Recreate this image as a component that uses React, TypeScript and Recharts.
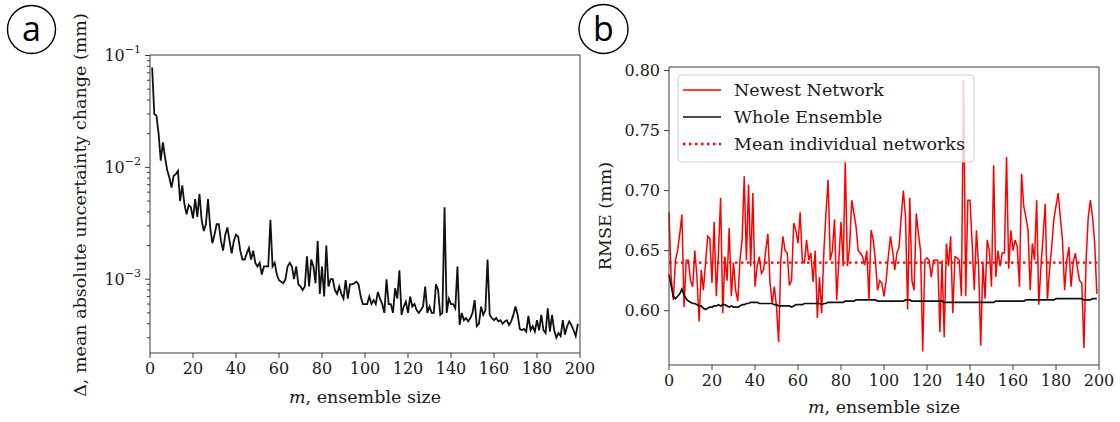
import { Line, LineChart, ReferenceLine, XAxis, YAxis } from 'recharts'

const SERIF = '"DejaVu Serif", serif'
const SANS = '"Open Sans", "Liberation Sans", sans-serif'
const AXIS_COLOR = '#3c3c3c'
const TEXT_COLOR = '#1a1a1a'
const LABEL_SIZE = 17.5

// (a) mean absolute uncertainty change, m = 1..199
const UNCERTAINTY_CHANGE = [
  0.078, 0.03, 0.029, 0.02, 0.0115, 0.0167, 0.0123, 0.0094, 0.0081, 0.0066,
  0.0084, 0.0087, 0.0093, 0.005, 0.0069, 0.0047, 0.0038, 0.0046, 0.0044, 0.0035,
  0.0052, 0.0036, 0.0058, 0.0034, 0.0027, 0.0031, 0.0052, 0.0029, 0.0021, 0.0025,
  0.0031, 0.0031, 0.0022, 0.0018, 0.0025, 0.0029, 0.0022, 0.0017, 0.0022, 0.0025,
  0.0024, 0.0018, 0.0015, 0.0015, 0.0017, 0.0019, 0.0015, 0.0018, 0.0014, 0.0013,
  0.0014, 0.0011, 0.0013, 0.0013, 0.0013, 0.0034, 0.0013, 0.0014, 0.0011, 0.00098,
  0.00095, 0.00092, 0.001, 0.0013, 0.0014, 0.0013, 0.001, 0.0013, 0.0009, 0.00086,
  0.0008, 0.00086, 0.0016, 0.00086, 0.0015, 0.0013, 0.00092, 0.0022, 0.00074, 0.0013,
  0.0007, 0.002, 0.00086, 0.001, 0.001, 0.0008, 0.00074, 0.00086, 0.00074, 0.00067,
  0.00098, 0.00067, 0.0009, 0.0009, 0.00092, 0.00095, 0.0009, 0.0007, 0.0006, 0.0006,
  0.0006, 0.0007, 0.0006, 0.00065, 0.0006, 0.00077, 0.00067, 0.0006, 0.0005, 0.001,
  0.0006, 0.0006, 0.0005, 0.00083, 0.00067, 0.0012, 0.00048, 0.00057, 0.00063, 0.0005,
  0.0007, 0.00057, 0.0006, 0.00053, 0.0005, 0.00053, 0.00057, 0.00086, 0.0005, 0.00057,
  0.0005, 0.0005, 0.0009, 0.0008, 0.00048, 0.0005, 0.0044, 0.0005, 0.00067, 0.0006,
  0.0006, 0.00055, 0.0013, 0.00039, 0.0005, 0.00043, 0.00045, 0.00042, 0.00045, 0.0005,
  0.00065, 0.00038, 0.0004, 0.00057, 0.00048, 0.00053, 0.0015, 0.00048, 0.00045, 0.00043,
  0.00045, 0.00042, 0.00043, 0.0004, 0.00042, 0.00043, 0.00039, 0.00042, 0.00048, 0.00057,
  0.00048, 0.00036, 0.00035, 0.00036, 0.00034, 0.00047, 0.00035, 0.00038, 0.00034, 0.00043,
  0.00035, 0.00048, 0.00035, 0.00033, 0.00055, 0.00034, 0.00048, 0.00035, 0.0003, 0.00033,
  0.00031, 0.00043, 0.00032, 0.00038, 0.00042, 0.00039, 0.00035, 0.00031, 0.0004,
]

// (b) RMSE (mm), m = 0..199
const NEWEST_NETWORK = [
  0.682, 0.628, 0.609, 0.642, 0.65, 0.664, 0.68, 0.603, 0.642, 0.642,
  0.625, 0.62, 0.65, 0.628, 0.591, 0.634, 0.617, 0.64, 0.662, 0.66,
  0.623, 0.674, 0.612, 0.648, 0.694, 0.598, 0.645, 0.625, 0.669, 0.612,
  0.64, 0.617, 0.608, 0.642, 0.659, 0.712, 0.642, 0.705, 0.637, 0.698,
  0.62, 0.637, 0.645, 0.631, 0.634, 0.65, 0.664, 0.623, 0.606, 0.62,
  0.603, 0.574, 0.642, 0.662, 0.65, 0.648, 0.621, 0.625, 0.673, 0.667,
  0.656, 0.682, 0.642, 0.64, 0.659, 0.642, 0.648, 0.624, 0.65, 0.594,
  0.628, 0.598, 0.648, 0.681, 0.709, 0.642, 0.65, 0.676, 0.609, 0.642,
  0.674, 0.637, 0.724, 0.637, 0.653, 0.692, 0.681, 0.67, 0.65, 0.648,
  0.645, 0.638, 0.65, 0.609, 0.667, 0.659, 0.642, 0.617, 0.625, 0.623,
  0.612, 0.625, 0.645, 0.662, 0.65, 0.634, 0.648, 0.653, 0.678, 0.7,
  0.678, 0.601, 0.694, 0.625, 0.617, 0.681, 0.664, 0.65, 0.566, 0.642,
  0.644, 0.642, 0.628, 0.642, 0.642, 0.642, 0.582, 0.642, 0.578, 0.656,
  0.637, 0.662, 0.598, 0.645, 0.644, 0.642, 0.612, 0.792, 0.612, 0.692,
  0.692, 0.656, 0.617, 0.667, 0.637, 0.571, 0.64, 0.61, 0.659, 0.65,
  0.62, 0.721, 0.628, 0.65, 0.637, 0.648, 0.648, 0.728, 0.635, 0.667,
  0.65, 0.659, 0.653, 0.62, 0.714, 0.687, 0.678, 0.667, 0.617, 0.656,
  0.642, 0.692, 0.605, 0.637, 0.662, 0.689, 0.609, 0.634, 0.653, 0.676,
  0.687, 0.698, 0.678, 0.659, 0.617, 0.642, 0.653, 0.62, 0.64, 0.648,
  0.635, 0.625, 0.623, 0.569, 0.642, 0.678, 0.692, 0.678, 0.656, 0.614,
]

const WHOLE_ENSEMBLE = [
  0.63, 0.621, 0.612, 0.61, 0.612, 0.614, 0.618, 0.613, 0.61, 0.608,
  0.607, 0.606, 0.606, 0.605, 0.604, 0.604, 0.602, 0.601, 0.602, 0.603,
  0.603, 0.604, 0.604, 0.605, 0.604, 0.605, 0.605, 0.604, 0.603, 0.604,
  0.603, 0.603, 0.603, 0.604, 0.605, 0.605, 0.606, 0.606, 0.607, 0.607,
  0.607, 0.607, 0.606, 0.606, 0.606, 0.606, 0.606, 0.606, 0.606, 0.605,
  0.605, 0.604, 0.604, 0.604, 0.604, 0.604, 0.604, 0.603, 0.604, 0.605,
  0.605, 0.605, 0.605, 0.606, 0.606, 0.606, 0.606, 0.606, 0.606, 0.606,
  0.606, 0.605, 0.606, 0.606, 0.607, 0.607, 0.607, 0.607, 0.607, 0.607,
  0.607, 0.607, 0.608, 0.608, 0.608, 0.608, 0.608, 0.609, 0.609, 0.609,
  0.609, 0.609, 0.609, 0.609, 0.609, 0.609, 0.609, 0.608, 0.608, 0.608,
  0.608, 0.608, 0.608, 0.608, 0.608, 0.608, 0.608, 0.608, 0.608, 0.608,
  0.609, 0.609, 0.609, 0.608, 0.608, 0.608, 0.608, 0.608, 0.608, 0.608,
  0.608, 0.608, 0.608, 0.608, 0.608, 0.608, 0.608, 0.608, 0.607, 0.607,
  0.607, 0.607, 0.607, 0.607, 0.607, 0.607, 0.607, 0.607, 0.607, 0.607,
  0.607, 0.607, 0.607, 0.607, 0.607, 0.607, 0.607, 0.607, 0.607, 0.607,
  0.607, 0.607, 0.608, 0.608, 0.608, 0.608, 0.608, 0.608, 0.608, 0.608,
  0.608, 0.608, 0.608, 0.608, 0.608, 0.608, 0.609, 0.609, 0.609, 0.609,
  0.609, 0.609, 0.609, 0.609, 0.609, 0.609, 0.609, 0.609, 0.609, 0.609,
  0.61, 0.61, 0.61, 0.61, 0.61, 0.61, 0.61, 0.61, 0.61, 0.61,
  0.61, 0.61, 0.61, 0.609, 0.609, 0.609, 0.609, 0.61, 0.61, 0.61,
]

const MEAN_INDIVIDUAL = 0.64

const M_TICKS = [0, 20, 40, 60, 80, 100, 120, 140, 160, 180, 200]
const LOG_TICKS = [
  0.0003, 0.0004, 0.0005, 0.0006, 0.0007, 0.0008, 0.0009,
  0.001, 0.002, 0.003, 0.004, 0.005, 0.006, 0.007, 0.008, 0.009,
  0.01, 0.02, 0.03, 0.04, 0.05, 0.06, 0.07, 0.08, 0.09, 0.1,
]
const RMSE_TICKS = [0.6, 0.65, 0.7, 0.75, 0.8]

const uncertaintyRows = UNCERTAINTY_CHANGE.map((delta, i) => ({ m: i + 1, delta }))
const rmseRows = NEWEST_NETWORK.map((newest, i) => ({
  m: i,
  newest,
  whole: WHOLE_ENSEMBLE[i],
}))

const tickStyle = { fill: TEXT_COLOR, fontSize: 16, fontFamily: SERIF }

function LogTick({ x, y, payload }: any) {
  const exp = Math.log10(payload.value)
  const major = Math.abs(exp - Math.round(exp)) < 1e-6
  return (
    <g>
      <line x1={x} x2={x - (major ? 5 : 3)} y1={y} y2={y} stroke={AXIS_COLOR} />
      {major && (
        <text
          x={x - 9}
          y={y + 6}
          textAnchor="end"
          fill={TEXT_COLOR}
          fontFamily={SERIF}
          fontSize={16}
        >
          10
          <tspan dy={-8} fontSize={11}>{`\u2212${-Math.round(exp)}`}</tspan>
        </text>
      )}
    </g>
  )
}

export default function App() {
  return (
    <div
      style={{
        position: 'absolute',
        left: 0,
        top: 0,
        width: 1120,
        height: 422,
        background: '#fff',
        overflow: 'hidden',
      }}
    >
      <LineChart
        width={600}
        height={422}
        data={uncertaintyRows}
        margin={{ top: 50, right: 15, bottom: 39, left: 90 }}
        style={{ position: 'absolute', left: 0, top: 0 }}
      >
        <XAxis
          dataKey="m"
          type="number"
          domain={[0, 200]}
          ticks={M_TICKS}
          interval={0}
          height={30}
          tickSize={5}
          tickMargin={5}
          stroke={AXIS_COLOR}
          tick={tickStyle}
        />
        <XAxis
          xAxisId="top"
          orientation="top"
          type="number"
          domain={[0, 200]}
          height={5}
          tick={false}
          tickLine={false}
          stroke={AXIS_COLOR}
        />
        <YAxis
          type="number"
          scale="log"
          domain={[0.000219, 0.101]}
          allowDataOverflow
          ticks={LOG_TICKS}
          interval={0}
          width={60}
          tickSize={0}
          tickMargin={0}
          tickLine={false}
          stroke={AXIS_COLOR}
          tick={<LogTick />}
        />
        <YAxis
          yAxisId="right"
          orientation="right"
          type="number"
          domain={[0, 1]}
          width={5}
          tick={false}
          tickLine={false}
          stroke={AXIS_COLOR}
        />
        <Line
          dataKey="delta"
          type="linear"
          stroke="#111"
          strokeWidth={1.8}
          dot={false}
          isAnimationActive={false}
        />
      </LineChart>

      <LineChart
        width={560}
        height={422}
        data={rmseRows}
        margin={{ top: 62, right: 16, bottom: 27, left: 49 }}
        style={{ position: 'absolute', left: 560, top: 0 }}
      >
        <XAxis
          dataKey="m"
          type="number"
          domain={[0, 200]}
          ticks={M_TICKS}
          interval={0}
          height={30}
          tickSize={5}
          tickMargin={5}
          stroke={AXIS_COLOR}
          tick={tickStyle}
        />
        <XAxis
          xAxisId="top"
          orientation="top"
          type="number"
          domain={[0, 200]}
          height={5}
          tick={false}
          tickLine={false}
          stroke={AXIS_COLOR}
        />
        <YAxis
          type="number"
          domain={[0.5548, 0.8029]}
          allowDataOverflow
          ticks={RMSE_TICKS}
          interval={0}
          width={60}
          tickSize={5}
          tickMargin={4}
          stroke={AXIS_COLOR}
          tick={tickStyle}
          tickFormatter={(v: number) => v.toFixed(2)}
        />
        <YAxis
          yAxisId="right"
          orientation="right"
          type="number"
          domain={[0, 1]}
          width={5}
          tick={false}
          tickLine={false}
          stroke={AXIS_COLOR}
        />
        <Line
          dataKey="newest"
          type="linear"
          stroke="#ff0000"
          strokeWidth={1.5}
          dot={false}
          isAnimationActive={false}
        />
        <Line
          dataKey="whole"
          type="linear"
          stroke="#111"
          strokeWidth={1.7}
          dot={false}
          isAnimationActive={false}
        />
        <ReferenceLine
          y={MEAN_INDIVIDUAL}
          stroke="#ff0000"
          strokeWidth={2.4}
          strokeDasharray="2.5 3.5"
        />
      </LineChart>

      <svg
        width={1120}
        height={422}
        style={{ position: 'absolute', left: 0, top: 0, pointerEvents: 'none' }}
      >
        <circle cx={31.5} cy={29.5} r={24} fill="none" stroke="#000" strokeWidth={1.4} />
        <text x={31.5} y={41} textAnchor="middle" fontFamily={SANS} fontSize={34} fill="#000">
          a
        </text>
        <circle cx={603.5} cy={29} r={24.5} fill="none" stroke="#000" strokeWidth={1.4} />
        <text x={603.5} y={41} textAnchor="middle" fontFamily={SANS} fontSize={34} fill="#000">
          b
        </text>

        <text
          transform="translate(80, 205) rotate(-90)"
          textAnchor="middle"
          dominantBaseline="central"
          fontFamily={SERIF}
          fontSize={LABEL_SIZE}
          fill={TEXT_COLOR}
        >
          Δ, mean absolute uncertainty change (mm)
        </text>
        <text x={365} y={403} textAnchor="middle" fontFamily={SERIF} fontSize={LABEL_SIZE} fill={TEXT_COLOR}>
          <tspan fontStyle="italic">m</tspan>, ensemble size
        </text>

        <text
          transform="translate(605, 216) rotate(-90)"
          textAnchor="middle"
          dominantBaseline="central"
          fontFamily={SERIF}
          fontSize={LABEL_SIZE}
          fill={TEXT_COLOR}
        >
          RMSE (mm)
        </text>
        <text x={884} y={413} textAnchor="middle" fontFamily={SERIF} fontSize={LABEL_SIZE} fill={TEXT_COLOR}>
          <tspan fontStyle="italic">m</tspan>, ensemble size
        </text>

        <rect
          x={678}
          y={75}
          width={296}
          height={87}
          rx={4}
          fill="#fff"
          fillOpacity={0.8}
          stroke="#d0d0d0"
        />
        <line x1={683} x2={721} y1={90} y2={90} stroke="#ff0000" strokeWidth={1.5} />
        <text x={734} y={96} fontFamily={SERIF} fontSize={LABEL_SIZE} fill={TEXT_COLOR}>
          Newest Network
        </text>
        <line x1={683} x2={721} y1={117} y2={117} stroke="#111" strokeWidth={1.7} />
        <text x={734} y={123} fontFamily={SERIF} fontSize={LABEL_SIZE} fill={TEXT_COLOR}>
          Whole Ensemble
        </text>
        <line
          x1={683}
          x2={721}
          y1={144}
          y2={144}
          stroke="#ff0000"
          strokeWidth={2.4}
          strokeDasharray="2.5 3.5"
        />
        <text x={734} y={150} fontFamily={SERIF} fontSize={LABEL_SIZE} fill={TEXT_COLOR}>
          Mean individual networks
        </text>
      </svg>
    </div>
  )
}
